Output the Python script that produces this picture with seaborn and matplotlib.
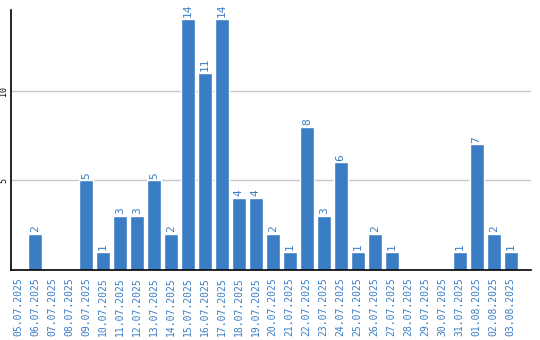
import matplotlib
matplotlib.use("Agg")
import matplotlib.pyplot as plt
import seaborn as sns
import pandas as pd

dates = ["05.07.2025", "06.07.2025", "07.07.2025", "08.07.2025", "09.07.2025",
         "10.07.2025", "11.07.2025", "12.07.2025", "13.07.2025", "14.07.2025",
         "15.07.2025", "16.07.2025", "17.07.2025", "18.07.2025", "19.07.2025",
         "20.07.2025", "21.07.2025", "22.07.2025", "23.07.2025", "24.07.2025",
         "25.07.2025", "26.07.2025", "27.07.2025", "28.07.2025", "29.07.2025",
         "30.07.2025", "31.07.2025", "01.08.2025", "02.08.2025", "03.08.2025"]
counts = [0, 2, 0, 0, 5, 1, 3, 3, 5, 2, 14, 11, 14, 4, 4,
          2, 1, 8, 3, 6, 1, 2, 1, 0, 0, 0, 1, 7, 2, 1]
yticks = [5, 10]

sns.set_theme(style="white")
plt.rcParams['font.family'] = ['DejaVu Sans Mono', 'DejaVu Sans']

df = pd.DataFrame({"date": dates, "count": counts})
blue = "#3b7dc4"

fig = plt.figure(figsize=(5.4, 3.4), dpi=100)
ax = fig.add_axes([11/540, 1 - 270/340, 520/540, 260/340])
sns.barplot(data=df, x="date", y="count", color=blue, width=0.82,
            saturation=1, ax=ax, zorder=3)

for i, v in enumerate(counts):
    if v > 0:
        ax.text(i, v + 0.1, str(v), rotation=90, ha="center", va="bottom",
                color=blue, fontsize=8)

ax.set_xlim(-0.41, 30.2)
ax.set_ylim(0, 14.5)
ax.set_yticks(yticks)
ax.set_yticklabels([str(t) for t in yticks], rotation=90, va="center",
                   fontsize=6, color="black")
ax.tick_params(axis="y", length=0, pad=2)
ax.tick_params(axis="x", length=0, pad=5)
ax.set_xticks(range(len(dates)))
ax.set_xticklabels(dates, rotation=90, color=blue, fontsize=7)
ax.set_xlabel("")
ax.set_ylabel("")
ax.yaxis.grid(True, color="#c8c8c8", linewidth=1, zorder=0)
ax.xaxis.grid(False)
for s in ["top", "right"]:
    ax.spines[s].set_visible(False)
for s in ["left", "bottom"]:
    ax.spines[s].set_color("black")
    ax.spines[s].set_linewidth(1.2)
    ax.spines[s].set_zorder(5)

fig.savefig("out.png", dpi=100)
